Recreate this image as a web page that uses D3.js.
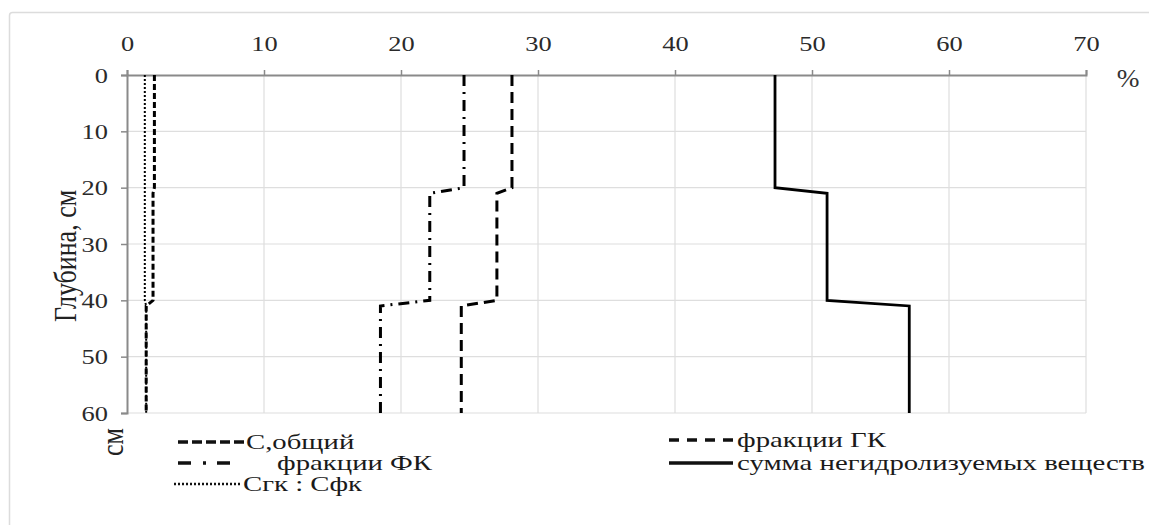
<!DOCTYPE html>
<html>
<head>
<meta charset="utf-8">
<script src="https://cdn.jsdelivr.net/npm/d3@7"></script>
<style>
  html, body { margin: 0; padding: 0; background: #fff; }
</style>
</head>
<body>
<svg id="chart" width="1149" height="525" font-family="'Liberation Serif', serif"></svg>
<script>
// Depth profile, cm
const depth = [0, 20, 21, 40, 41, 60];
// Series values, %
const cTotal   = [2.0, 2.0, 1.9, 1.9, 1.4, 1.4];
const gkFrac   = [28.1, 28.1, 27.0, 27.0, 24.4, 24.4];
const fkFrac   = [24.6, 24.6, 22.1, 22.1, 18.5, 18.5];
const ratioGkFk = [1.3, 1.3, 1.3, 1.3, 1.4, 1.4];
const nonHydro = [47.3, 47.3, 51.1, 51.1, 57.1, 57.1];

const xTicks = [0, 10, 20, 30, 40, 50, 60, 70];
const yTicks = [0, 10, 20, 30, 40, 50, 60];

const seriesNames = ["С,общий", "фракции ГК", "фракции ФК", "сумма негидролизуемых веществ", "Сгк : Сфк"];

const FONT = "'Liberation Serif', serif";
const WIDE = 1.2;   // glyphs are set slightly wide

const svg = d3.select("#chart");
const x = d3.scaleLinear().domain([0, 70]).range([127, 1086]);
const y = d3.scaleLinear().domain([0, 60]).range([75, 413]);

// frame
svg.append("rect")
  .attr("x", 9.5).attr("y", 12.5)
  .attr("width", 1160).attr("height", 540)
  .attr("rx", 3)
  .attr("fill", "none").attr("stroke", "#dcdcdc").attr("stroke-width", 1.5);

// grid
const grid = svg.append("g");
grid.selectAll("line.v").data(xTicks.slice(1)).join("line")
  .attr("x1", d => x(d)).attr("x2", d => x(d))
  .attr("y1", y(0)).attr("y2", y(60))
  .attr("stroke", "#dedede").attr("stroke-width", 1.2);
grid.selectAll("line.h").data(yTicks.slice(1)).join("line")
  .attr("x1", x(0)).attr("x2", x(70))
  .attr("y1", d => y(d)).attr("y2", d => y(d))
  .attr("stroke", "#dedede").attr("stroke-width", 1.2);

// axes
const xAxis = svg.append("g").attr("transform", `translate(0,${y(0)})`)
  .call(d3.axisTop(x).tickValues(xTicks).tickSize(5).tickPadding(19));
const yAxis = svg.append("g").attr("transform", `translate(${x(0)},0)`)
  .call(d3.axisLeft(y).tickValues(yTicks).tickSize(6).tickPadding(13));
[xAxis, yAxis].forEach(a => {
  a.attr("font-family", FONT).attr("font-size", 22);
  a.select(".domain").attr("stroke", "#8a8a8a").attr("stroke-width", 2);
  a.selectAll(".tick line").attr("stroke", "#8a8a8a").attr("stroke-width", 1.5);
  a.selectAll(".tick text")
    .attr("fill", "#2a2a2a")
    .attr("x", function () { return (+d3.select(this).attr("x") || 0) / WIDE; })
    .attr("transform", `scale(${WIDE},1)`);
});

// axis titles
svg.append("text")
  .attr("transform", `translate(76,256) scale(${WIDE},1) rotate(-90)`)
  .attr("text-anchor", "middle")
  .attr("fill", "#222")
  .attr("font-size", 26)
  .text("Глубина, см");
svg.append("text")
  .attr("transform", `translate(123,442) scale(${WIDE},1) rotate(-90)`)
  .attr("text-anchor", "middle")
  .attr("fill", "#222")
  .attr("font-size", 26)
  .text("см");
svg.append("text")
  .attr("transform", `translate(1128,87) scale(1.05,1)`)
  .attr("text-anchor", "middle")
  .attr("fill", "#333")
  .attr("font-size", 26)
  .text("%");

// series lines
const styles = [
  { values: cTotal,    dash: "6,3",      legendDash: "10,4",        width: 3 },
  { values: gkFrac,    dash: "11,6",     legendDash: "10,8",        width: 3 },
  { values: fkFrac,    dash: "11,6,2,6", legendDash: "13,12,3,11",  width: 3 },
  { values: nonHydro,  dash: null,       legendDash: null,          width: 2.8 },
  { values: ratioGkFk, dash: "2,2",      legendDash: "2,2",         width: 2 }
];

const line = d3.line().x(d => x(d[0])).y(d => y(d[1]));
styles.forEach(s => {
  svg.append("path")
    .datum(s.values.map((v, i) => [v, depth[i]]))
    .attr("d", line)
    .attr("fill", "none")
    .attr("stroke", "#000")
    .attr("stroke-width", s.width)
    .attr("stroke-dasharray", s.dash);
});

// legend
const legendPos = [
  { x: 178, y: 442, len: 66, tx: 246 },
  { x: 669, y: 440, len: 64, tx: 737 },
  { x: 178, y: 463, len: 52, tx: 277 },
  { x: 669, y: 463, len: 64, tx: 737 },
  { x: 174, y: 484, len: 66, tx: 243 }
];
legendPos.forEach((p, i) => {
  const s = styles[i];
  svg.append("line")
    .attr("x1", p.x).attr("x2", p.x + p.len)
    .attr("y1", p.y).attr("y2", p.y)
    .attr("stroke", "#111")
    .attr("stroke-width", s.width + 0.5)
    .attr("stroke-dasharray", s.legendDash);
  svg.append("text")
    .attr("transform", `translate(${p.tx},${p.y + 7}) scale(1.37,1)`)
    .attr("fill", "#1a1a1a")
    .attr("font-size", 21)
    .text(seriesNames[i]);
});
</script>
</body>
</html>
